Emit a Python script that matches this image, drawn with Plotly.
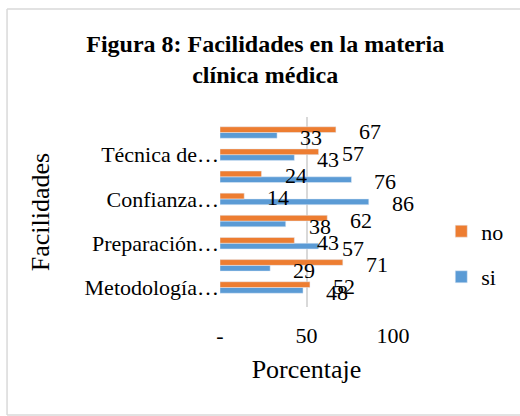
import plotly.graph_objects as go

# Datos (de abajo hacia arriba):
categorias = ["Metodología…", "Categoría 2", "Preparación…", "Categoría 4",
              "Confianza…", "Categoría 6", "Técnica de…", "Categoría 8"]
etiquetas_eje = ["Metodología…", "", "Preparación…", "",
                 "Confianza…", "", "Técnica de…", ""]
si = [48, 29, 57, 38, 86, 76, 43, 33]
no = [52, 71, 43, 62, 14, 24, 57, 67]
ticks_x = [0, 50, 100]
ticks_x_texto = ["-", "50", "100"]

FUENTE = "Liberation Serif, Times New Roman, serif"

fig = go.Figure()

# "si" primero para que quede abajo dentro de cada grupo:
fig.add_trace(go.Bar(y=categorias, x=si, name="si", orientation="h",
                     marker_color="#5B9BD5", legendgroup="si", legendrank=2))
fig.add_trace(go.Bar(y=categorias, x=no, name="no", orientation="h",
                     marker_color="#ED7D31", legendgroup="no", legendrank=1))

# Etiquetas de datos, desplazadas como en el original:
for cat, v in zip(categorias, no):
    fig.add_annotation(x=v, y=cat, text=str(v), showarrow=False,
                       xanchor="center", yanchor="middle", xshift=34, yshift=1,
                       font=dict(family=FUENTE, size=22, color="black"))
for cat, v in zip(categorias, si):
    fig.add_annotation(x=v, y=cat, text=str(v), showarrow=False,
                       xanchor="center", yanchor="middle", xshift=34, yshift=-5,
                       font=dict(family=FUENTE, size=22, color="black"))

# Borde del grafico (izquierda, arriba y abajo):
borde = dict(color="#d9d9d9", width=1.5)
fig.add_shape(type="line", xref="paper", yref="paper",
              x0=-1.231, x1=-1.231, y0=-0.568, y1=1.568, line=borde, layer="below")
fig.add_shape(type="line", xref="paper", yref="paper",
              x0=-1.231, x1=1.75, y0=1.568, y1=1.568, line=borde, layer="below")
fig.add_shape(type="line", xref="paper", yref="paper",
              x0=-1.231, x1=1.75, y0=-0.568, y1=-0.568, line=borde, layer="below")

fig.update_layout(
    width=520, height=416,
    margin=dict(l=220, r=127, t=117, b=109, autoexpand=False),
    paper_bgcolor="white", plot_bgcolor="white",
    font=dict(family=FUENTE, size=22, color="black"),
    barmode="group", bargap=0.48, bargroupgap=0,
    title=dict(text="<b>Figura 8: Facilidades en la materia<br>clínica médica</b>",
               x=0.51, xanchor="center", y=0.875, yanchor="top",
               font=dict(family=FUENTE, size=24, color="black")),
    legend=dict(x=1.279, xanchor="left", y=0.277, yanchor="middle",
                traceorder="grouped", tracegroupgap=14,
                font=dict(size=22), bgcolor="rgba(0,0,0,0)"),
    showlegend=True,
)

fig.update_xaxes(range=[0, 100], tickvals=ticks_x, ticktext=ticks_x_texto,
                 showgrid=True, gridcolor="#d9d9d9", gridwidth=1.5,
                 zeroline=False, showline=False, ticklabelstandoff=13,
                 automargin=False,
                 title=dict(text="Porcentaje", standoff=12))
fig.update_yaxes(type="category", categoryorder="array", categoryarray=categorias,
                 tickvals=categorias, ticktext=etiquetas_eje,
                 showgrid=False, zeroline=False, showline=False, ticks="",
                 automargin=False,
                 title=dict(text="Facilidades", standoff=27))

# Quitar el margen por defecto del <body> para que la figura quede en (0, 0):
fig.write_html("out.html", config={"displayModeBar": False},
               post_script="document.body.style.margin='0';"
                           "document.body.style.overflow='hidden';")
